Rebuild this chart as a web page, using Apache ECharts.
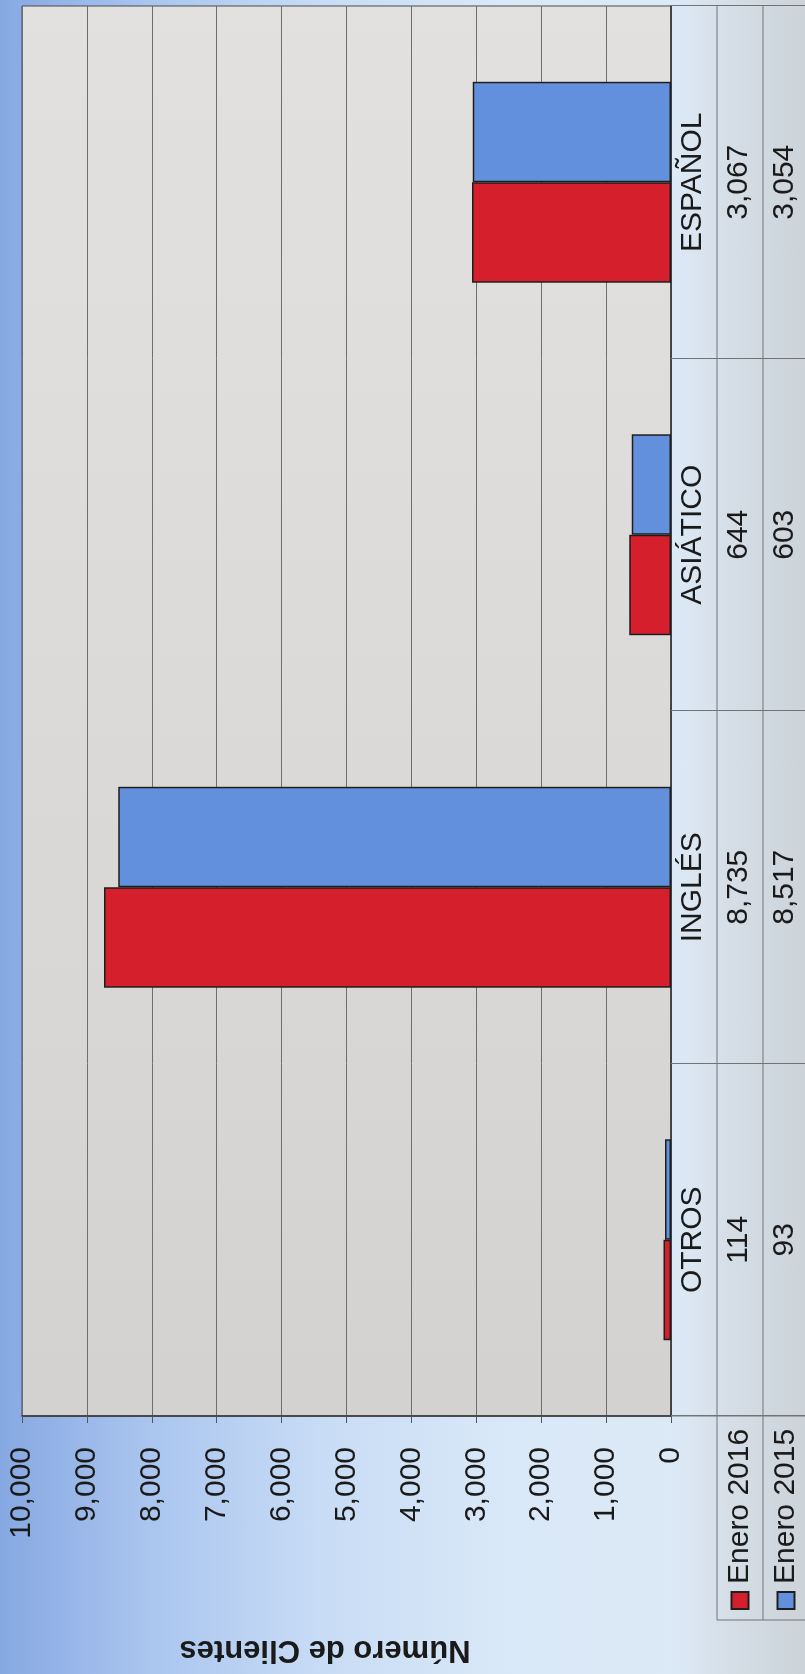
<!DOCTYPE html>
<html>
<head>
<meta charset="utf-8">
<script src="https://cdn.jsdelivr.net/npm/echarts@6.0.0/dist/echarts.min.js"></script>
<style>
html,body{margin:0;padding:0;overflow:hidden;width:805px;height:1674px;background:#dfe9f3;}
#wrap{position:absolute;left:0;top:0;width:1674px;height:805px;transform-origin:0 0;
 transform:translateY(1674px) rotate(-90deg);
 background:linear-gradient(to bottom,#86a8e2 0%,#a9c4ee 18%,#c8dcf5 40%,#d9e8f8 62%,#dce9f6 84%,#d6dfe8 90%,#ccd3d9 100%);}
#chart{width:1674px;height:805px;}
</style>
</head>
<body>
<div id="wrap"><div id="chart"></div></div>
<script>
// ---- data ----
const categories = ['OTROS', 'INGLÉS', 'ASIÁTICO', 'ESPAÑOL'];
const enero2016 = [114, 8735, 644, 3067];
const enero2015 = [93, 8517, 603, 3054];
const seriesNames = ['Enero 2016', 'Enero 2015'];
const axisMin = 0, axisMax = 10000, axisStep = 1000;
const axisTitle = 'Número de Clientes';

// ---- layout (original, unrotated orientation) ----
const W = 1674, H = 805;
const gLeft = 258, gTop = 22, gRight = 1668, gBottom = 671;
const row1 = 717, row2 = 763, headLeft = 54;
const FONT = '"Liberation Sans", Arial, sans-serif';
const fmt = v => Number(v).toLocaleString('en-US');

const chart = echarts.init(document.getElementById('chart'), null, {width: W, height: H, renderer: 'canvas'});
const lineStyle = {stroke: '#707478', lineWidth: 1};
chart.setOption({
  animation: false,
  backgroundColor: 'transparent',
  textStyle: {fontFamily: FONT},
  grid: {
    left: gLeft, top: gTop, width: gRight - gLeft, height: gBottom - gTop,
    show: true, borderColor: '#4a4a4a', borderWidth: 1,
    backgroundColor: {type: 'linear', x: 0, y: 0, x2: 1, y2: 0,
      colorStops: [{offset: 0, color: '#d3d2d0'}, {offset: 0.5, color: '#dbdad8'}, {offset: 1, color: '#e2e1df'}]}
  },
  legend: {
    orient: 'vertical', left: headLeft + 10, top: row1, height: 140, padding: 0, itemGap: 0,
    itemWidth: 17, itemHeight: 17, icon: 'rect', selectedMode: false,
    textStyle: {fontSize: 30, color: '#1a1a1a', lineHeight: 46, fontFamily: FONT, padding: [0, 0, 0, 3]},
    data: seriesNames
  },
  xAxis: {
    type: 'category', data: categories,
    axisLine: {lineStyle: {color: '#333', width: 1.5}},
    axisTick: {show: true, length: H - gBottom, lineStyle: {color: '#707478', width: 1}},
    axisLabel: {
      margin: -1, interval: 0,
      formatter: (val, idx) => `{c|${val}}\n{v|${fmt(enero2016[idx])}}\n{v|${fmt(enero2015[idx])}}`,
      rich: {
        c: {fontSize: 30, lineHeight: 46, color: '#1a1a1a', fontFamily: FONT},
        v: {fontSize: 30, lineHeight: 46, color: '#1a1a1a', fontFamily: FONT}
      }
    }
  },
  yAxis: {
    type: 'value', min: axisMin, max: axisMax, interval: axisStep,
    axisLine: {show: true, lineStyle: {color: '#333', width: 1.5}},
    axisTick: {show: true, length: 7, lineStyle: {color: '#555'}},
    axisLabel: {margin: 31, fontSize: 30, color: '#1a1a1a', fontFamily: FONT, formatter: v => fmt(v)},
    splitLine: {show: true, lineStyle: {color: '#6e6e6e', width: 1}}
  },
  series: [
    {name: seriesNames[0], type: 'bar', data: enero2016, barGap: '0%', barCategoryGap: '43%',
     itemStyle: {color: '#d61f2c', borderColor: '#1e1e1e', borderWidth: 1.5}},
    {name: seriesNames[1], type: 'bar', data: enero2015, barGap: '0%', barCategoryGap: '43%',
     itemStyle: {color: '#6390dc', borderColor: '#1e1e1e', borderWidth: 1.5}}
  ],
  graphic: [
    {type: 'line', shape: {x1: headLeft, y1: row1, x2: gRight, y2: row1}, style: lineStyle, z: 10},
    {type: 'line', shape: {x1: headLeft, y1: row2, x2: gRight, y2: row2}, style: lineStyle, z: 10},
    {type: 'line', shape: {x1: headLeft, y1: row1, x2: headLeft, y2: H}, style: lineStyle, z: 10},
    {type: 'line', shape: {x1: gLeft, y1: gBottom, x2: gLeft, y2: H}, style: lineStyle, z: 10},
    {type: 'text', x: 24, y: 325, rotation: Math.PI / 2,
     style: {text: axisTitle, font: 'bold 31px ' + FONT, fill: '#1a1a1a', textAlign: 'center', textVerticalAlign: 'middle'}, z: 10}
  ]
});
</script>
</body>
</html>
